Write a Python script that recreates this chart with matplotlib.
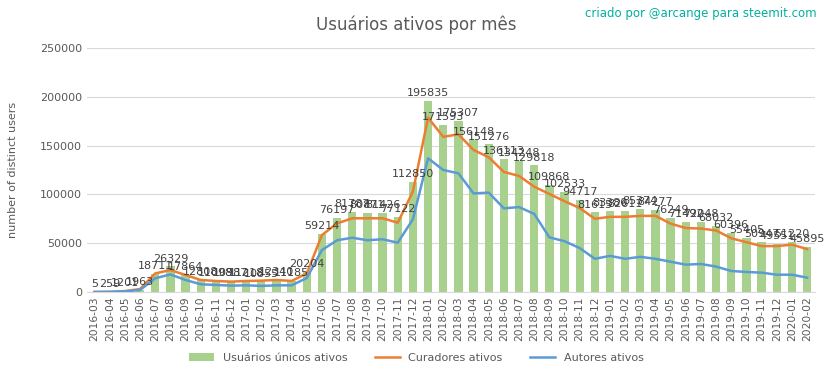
#Usuarios ativos por mes - steemit active users per month.

#Import libraries
import matplotlib
matplotlib.use("Agg")
import matplotlib.pyplot as plt
import numpy as np

#Months on the category axis.
months = ["2016-03", "2016-04", "2016-05", "2016-06", "2016-07", "2016-08",
          "2016-09", "2016-10", "2016-11", "2016-12", "2017-01", "2017-02",
          "2017-03", "2017-04", "2017-05", "2017-06", "2017-07", "2017-08",
          "2017-09", "2017-10", "2017-11", "2017-12", "2018-01", "2018-02",
          "2018-03", "2018-04", "2018-05", "2018-06", "2018-07", "2018-08",
          "2018-09", "2018-10", "2018-11", "2018-12", "2019-01", "2019-02",
          "2019-03", "2019-04", "2019-05", "2019-06", "2019-07", "2019-08",
          "2019-09", "2019-10", "2019-11", "2019-12", "2020-01", "2020-02"]

#Unique active users (bars, labelled).
unique_users = [5, 259, 1201, 1963, 18711, 26329,
                17864, 12808, 11098, 10987, 11218, 10855,
                12340, 11185, 20204, 59214, 76197, 81787,
                80871, 81426, 77122, 112850, 195835, 171593,
                175307, 156148, 151276, 136113, 134248, 129818,
                109868, 102533, 94717, 81615, 83380, 82611,
                85374, 84277, 76249, 71492, 72048, 68032,
                60396, 55405, 50947, 49551, 51220, 45895]

#Active curators (orange line).
curators = [3, 150, 900, 3000, 19000, 22500,
            17400, 12300, 11300, 10600, 11300, 11600,
            12300, 11300, 19000, 58400, 70300, 75500,
            75500, 75500, 71000, 103000, 178600, 159000,
            161500, 145500, 138000, 123000, 118900, 107900,
            100400, 93000, 86000, 75000, 77000, 77000,
            78000, 78000, 70000, 65500, 65000, 63000,
            55000, 51000, 47000, 47000, 48500, 44000]

#Active authors (blue line).
authors = [2, 100, 700, 2000, 14000, 18000,
           12300, 7900, 7200, 6500, 6800, 6200,
           6800, 6800, 14300, 43000, 53000, 55600,
           53000, 54000, 50500, 74500, 137000, 125000,
           121600, 101000, 101800, 85700, 87000, 80000,
           56000, 52000, 45000, 34000, 37000, 34000,
           36000, 34000, 31000, 28000, 28700, 26000,
           21500, 20500, 19800, 17700, 17700, 14700]

x = np.arange(len(months))

fig = plt.figure(figsize=(8.33, 3.79), dpi=100)
ax = fig.add_axes([0.1044, 0.2296, 0.8736, 0.6438])

#Bars and the two lines.
bars = ax.bar(x, unique_users, width=0.55, color="#A9D18E", zorder=2,
              label="Usuários únicos ativos")
l1, = ax.plot(x, curators, color="#ED7D31", lw=1.8, zorder=3, label="Curadores ativos")
l2, = ax.plot(x, authors, color="#5B9BD5", lw=1.8, zorder=3, label="Autores ativos")

#Data labels above every bar.
for i, v in enumerate(unique_users):
    ax.annotate(str(v), (x[i], v), xytext=(0, 2), textcoords="offset points",
                ha="center", va="bottom", fontsize=8, color="#404040", zorder=4)

ax.set_xlim(-0.5, len(months) - 0.5)
ax.set_ylim(0, 250000)
ax.set_yticks(np.arange(0, 250001, 50000))
ax.set_xticks(x)
ax.set_xticklabels(months, rotation=90, fontsize=7.7, color="#595959")
ax.tick_params(axis="y", labelsize=8, labelcolor="#595959", length=0)
ax.tick_params(axis="x", length=0, pad=3)
ax.grid(axis="y", color="#D9D9D9", lw=0.8, zorder=0)
for side in ["top", "right", "left"]:
    ax.spines[side].set_visible(False)
ax.spines["bottom"].set_color("#D9D9D9")

ax.set_ylabel("number of distinct users", fontsize=8, color="#595959")
ax.yaxis.set_label_coords(-0.095, 0.5)

fig.text(0.5, 0.935, "Usuários ativos por mês", ha="center", va="center",
         fontsize=12, color="#595959")
fig.text(0.98, 0.965, "criado por @arcange para steemit.com", ha="right",
         va="center", fontsize=8.5, color="#00B0A0")

fig.legend(handles=[bars, l1, l2], loc="center", bbox_to_anchor=(0.5, 0.055),
           ncol=3, frameon=False, fontsize=8, labelcolor="#595959",
           handlelength=2.2, columnspacing=2.5)

fig.savefig("out.png", dpi=100)
